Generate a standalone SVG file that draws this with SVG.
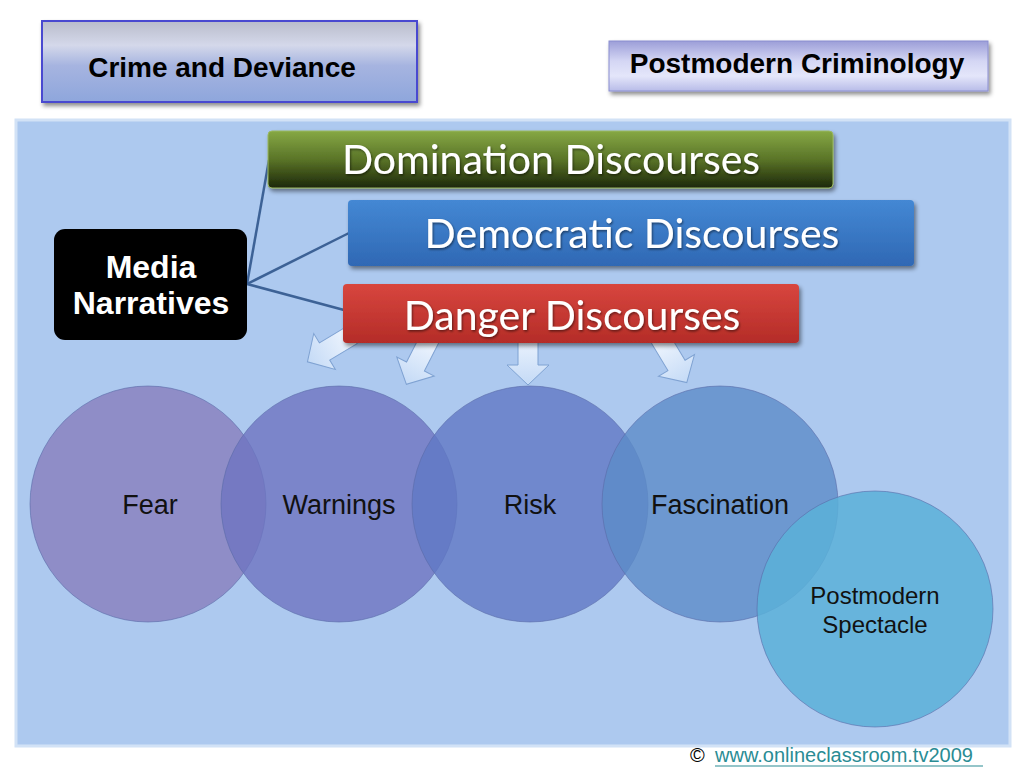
<svg xmlns="http://www.w3.org/2000/svg" width="1024" height="768" viewBox="0 0 1024 768">
<defs>
<linearGradient id="gHdr" x1="0" y1="0" x2="0" y2="1">
<stop offset="0" stop-color="#b9bccb"/><stop offset="0.3" stop-color="#d4d8ea"/><stop offset="0.55" stop-color="#a6b4e0"/><stop offset="1" stop-color="#8ea6dc"/>
</linearGradient>
<linearGradient id="gHdr2" x1="0" y1="0" x2="0" y2="1">
<stop offset="0" stop-color="#9c9ed8"/><stop offset="0.4" stop-color="#d4d6f4"/><stop offset="0.7" stop-color="#e4e6fa"/><stop offset="1" stop-color="#b8bce8"/>
</linearGradient>
<linearGradient id="gGreen" x1="0" y1="0" x2="0" y2="1">
<stop offset="0" stop-color="#86a844"/><stop offset="0.5" stop-color="#5a7428"/><stop offset="1" stop-color="#1c2808"/>
</linearGradient>
<linearGradient id="gBlue" x1="0" y1="0" x2="0" y2="1">
<stop offset="0" stop-color="#4488d4"/><stop offset="1" stop-color="#2f68b4"/>
</linearGradient>
<linearGradient id="gRed" x1="0" y1="0" x2="0" y2="1">
<stop offset="0" stop-color="#d8463e"/><stop offset="1" stop-color="#b42c28"/>
</linearGradient>
<linearGradient id="gArrow" x1="0" y1="0" x2="0" y2="1">
<stop offset="0" stop-color="#f0f6fe"/><stop offset="1" stop-color="#c4daf6"/>
</linearGradient>
<filter id="sh" x="-10%" y="-10%" width="120%" height="140%">
<feDropShadow dx="2" dy="3" stdDeviation="2" flood-color="#000" flood-opacity="0.45"/>
</filter>
<filter id="tsh" x="-10%" y="-20%" width="120%" height="150%">
<feDropShadow dx="1" dy="1.5" stdDeviation="1" flood-color="#000" flood-opacity="0.5"/>
</filter>
<path id="arrow" d="M-10,0 L10,0 L10,32 L21,32 L0,52 L-21,32 L-10,32 Z"/>
</defs>
<style>
.hdr{font-family:"Liberation Sans",Arial,sans-serif;font-weight:bold;font-size:28px;fill:#000;text-anchor:middle}
.disc{font-family:Lato,"Open Sans",sans-serif;font-size:41px;fill:#fff;text-anchor:middle}
.media{font-family:"Liberation Sans",Arial,sans-serif;font-weight:bold;font-size:32px;fill:#fff;text-anchor:middle}
.lbl{font-family:"Liberation Sans",Arial,sans-serif;font-size:27px;fill:#111;text-anchor:middle}
.lbl2{font-family:"Liberation Sans",Arial,sans-serif;font-size:24px;fill:#111;text-anchor:middle}
.circ{stroke:#5a6aa8;stroke-width:1;stroke-opacity:0.6}
.conn{stroke:#3d6296;stroke-width:2.5;fill:none}
.arr{fill:url(#gArrow);stroke:#7fa2d2;stroke-width:1}
.foot{font-family:"Liberation Sans",Arial,sans-serif;font-size:20px}
</style>
<rect width="1024" height="768" fill="#fff"/>
<rect x="16" y="120" width="994" height="626" fill="#adc9ef" stroke="#d2e2f6" stroke-width="3"/>

<g id="crime-and-deviance">
<rect x="42" y="21" width="375" height="81" fill="url(#gHdr)" stroke="#4848d0" stroke-width="2" filter="url(#sh)"/>
<text class="hdr" x="222" y="77">Crime and Deviance</text>
</g>
<g id="postmodern-criminology">
<rect x="609" y="41" width="379" height="50" fill="url(#gHdr2)" stroke="#8a8ed0" stroke-width="1" filter="url(#sh)"/>
<text class="hdr" x="797" y="73">Postmodern Criminology</text>
</g>

<g id="connectors">
<path class="conn" d="M247,284 L269,160"/>
<path class="conn" d="M247,284 L349,233"/>
<path class="conn" d="M247,284 L344,310"/>
</g>

<g id="fear"><circle class="circ" cx="148" cy="504" r="118" fill="#8a82c0" fill-opacity="0.85"/><text class="lbl" x="150" y="514">Fear</text></g>
<g id="warnings"><circle class="circ" cx="339" cy="504" r="118" fill="#6e74c0" fill-opacity="0.8"/><text class="lbl" x="339" y="514">Warnings</text></g>
<g id="risk"><circle class="circ" cx="530" cy="504" r="118" fill="#6078c4" fill-opacity="0.8"/><text class="lbl" x="530" y="514">Risk</text></g>
<g id="fascination"><circle class="circ" cx="720" cy="504" r="118" fill="#5c8cc8" fill-opacity="0.8"/><text class="lbl" x="720" y="514">Fascination</text></g>
<g id="postmodern-spectacle"><circle class="circ" cx="875" cy="609" r="118" fill="#5ab0d8" fill-opacity="0.85"/><text class="lbl2" x="875" y="604">Postmodern</text><text class="lbl2" x="875" y="633">Spectacle</text></g>

<g id="arrows">
<use href="#arrow" class="arr" transform="translate(352,335) rotate(59)"/>
<use href="#arrow" class="arr" transform="translate(430,338) rotate(27)"/>
<use href="#arrow" class="arr" transform="translate(528,333)"/>
<use href="#arrow" class="arr" transform="translate(660,338) rotate(-31)"/>
</g>

<g id="domination-discourses">
<rect x="268" y="131" width="565" height="57" rx="4" fill="url(#gGreen)" stroke="#9ab860" stroke-width="1" filter="url(#sh)"/>
<text class="disc" x="551" y="174" filter="url(#tsh)">Domination Discourses</text>
</g>
<g id="democratic-discourses">
<rect x="348" y="200" width="566" height="66" rx="4" fill="url(#gBlue)" filter="url(#sh)"/>
<text class="disc" x="632" y="248" filter="url(#tsh)">Democratic Discourses</text>
</g>
<g id="danger-discourses">
<rect x="343" y="284" width="456" height="59" rx="4" fill="url(#gRed)" filter="url(#sh)"/>
<text class="disc" x="572" y="330" filter="url(#tsh)">Danger Discourses</text>
</g>

<g id="media-narratives">
<rect x="54" y="229" width="193" height="111" rx="11" fill="#000"/>
<text class="media" x="151" y="278">Media</text>
<text class="media" x="151" y="314">Narratives</text>
</g>

<g id="copyright">
<text class="foot" x="690" y="762" fill="#000">©</text>
<text class="foot" x="715" y="762" fill="#2a8c94">www.onlineclassroom.tv2009</text>
<line x1="715" y1="766" x2="983" y2="766" stroke="#2a8c94" stroke-width="1.2"/>
</g>
</svg>
